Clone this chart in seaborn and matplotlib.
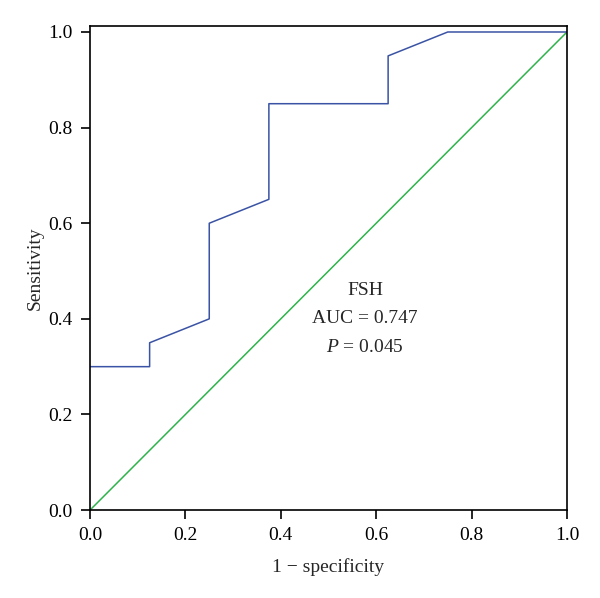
import numpy as np
import pandas as pd
import matplotlib
matplotlib.use("Agg")
import matplotlib.pyplot as plt
import seaborn as sns

fpr = [0.0, 0.125, 0.125, 0.25, 0.25, 0.375, 0.375, 0.625, 0.625, 0.75, 1.0]
tpr = [0.3, 0.3, 0.35, 0.4, 0.6, 0.65, 0.85, 0.85, 0.95, 1.0, 1.0]
ref_x = [0.0, 1.0]
ref_y = [0.0, 1.0]
ticks = [0.0, 0.2, 0.4, 0.6, 0.8, 1.0]

sns.set_style("ticks")
plt.rcParams['font.family'] = ['Liberation Serif', 'DejaVu Serif']
plt.rcParams['mathtext.fontset'] = 'custom'
plt.rcParams['mathtext.rm'] = 'Liberation Serif'
plt.rcParams['mathtext.it'] = 'Liberation Serif:italic'

roc = pd.DataFrame({'x': fpr, 'y': tpr})
diag = pd.DataFrame({'x': ref_x, 'y': ref_y})

fig = plt.figure(figsize=(6, 5.98), dpi=100)
ax = fig.add_axes([0.15, 0.147, 0.795, 0.8095])
sns.lineplot(data=diag, x='x', y='y', ax=ax, color='#2db34a', lw=1.1, sort=False, estimator=None)
sns.lineplot(data=roc, x='x', y='y', ax=ax, color='#3a53a4', lw=1.1, sort=False, estimator=None)

ax.set_xlim(0, 1.0)
ax.set_ylim(0, 1.0125)
ax.set_xticks(ticks)
ax.set_yticks(ticks)
ax.set_xticklabels([f"{t:.1f}" for t in ticks])
ax.set_yticklabels([f"{t:.1f}" for t in ticks])
ax.tick_params(direction='out', length=6.5, width=1.2, labelsize=14, colors='black', pad=6)
for s in ax.spines.values():
    s.set_visible(True)
    s.set_linewidth(1.2)
    s.set_color('black')

ax.set_xlabel('1 \u2212 specificity', fontsize=14, labelpad=10)
ax.set_ylabel('Sensitivity', fontsize=14, labelpad=3)

ax.text(0.577, 0.46, 'FSH', ha='center', va='center', fontsize=14)
ax.text(0.577, 0.40, 'AUC = 0.747', ha='center', va='center', fontsize=14)
ax.text(0.577, 0.34, r'$P$ = 0.045', ha='center', va='center', fontsize=14)

fig.savefig('out.png', dpi=100)
